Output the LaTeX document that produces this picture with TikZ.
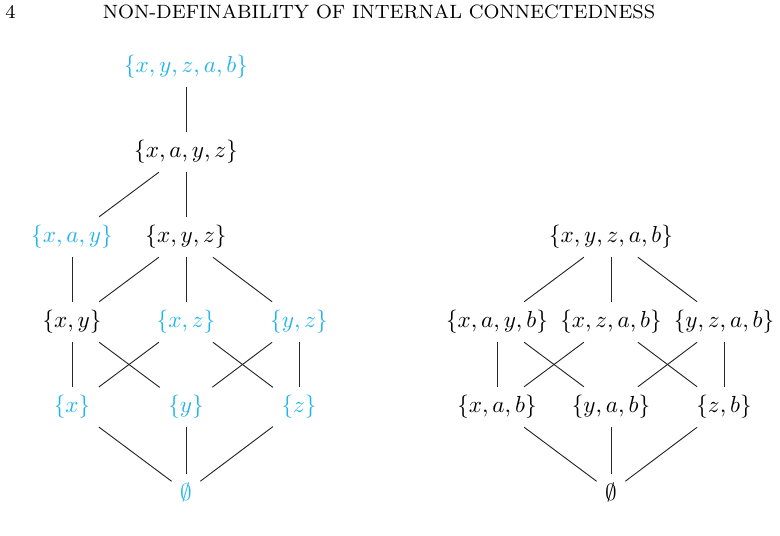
\documentclass[tikz,border=0pt]{standalone}
\usepackage{xcolor}
\definecolor{setblue}{RGB}{35,180,235}
\begin{document}
\begin{tikzpicture}[x=0.431pt,y=-0.431pt,
  el/.style={inner sep=3.5pt, text=black},
  hl/.style={inner sep=3.5pt, text=setblue},
  hdr/.style={anchor=base, font=\fontsize{8.3}{10}\selectfont},
  edge/.style={line width=0.4pt, draw=black!85}]
\useasboundingbox (0,0) rectangle (780,536);
% header
\node[hdr] (pg) at (10.5,19) {4};
\node[hdr] (hd) at (379,19) {NON-DEFINABILITY OF INTERNAL CONNECTEDNESS};
% left lattice
\node[hl] (L1) at (186,67) {$\{x,y,z,a,b\}$};
\node[el] (L2) at (186,152) {$\{x,a,y,z\}$};
\node[hl] (L3a) at (72,237) {$\{x,a,y\}$};
\node[el] (L3b) at (186,237) {$\{x,y,z\}$};
\node[el] (Lxy) at (72,322) {$\{x,y\}$};
\node[hl] (Lxz) at (186,322) {$\{x,z\}$};
\node[hl] (Lyz) at (299,322) {$\{y,z\}$};
\node[hl] (Lx) at (72,407) {$\{x\}$};
\node[hl] (Ly) at (186,407) {$\{y\}$};
\node[hl] (Lz) at (299,407) {$\{z\}$};
\node[hl] (L0) at (186,492) {$\emptyset$};
\draw[edge] (L1) -- (L2);
\draw[edge] (L2) -- (L3a);
\draw[edge] (L2) -- (L3b);
\draw[edge] (L3a) -- (Lxy);
\draw[edge] (L3b) -- (Lxy);
\draw[edge] (L3b) -- (Lxz);
\draw[edge] (L3b) -- (Lyz);
\draw[edge] (Lxy) -- (Lx);
\draw[edge] (Lxy) -- (Ly);
\draw[edge] (Lxz) -- (Lx);
\draw[edge] (Lxz) -- (Lz);
\draw[edge] (Lyz) -- (Ly);
\draw[edge] (Lyz) -- (Lz);
\draw[edge] (Lx) -- (L0);
\draw[edge] (Ly) -- (L0);
\draw[edge] (Lz) -- (L0);
% right lattice
\node[el] (R1) at (611,237) {$\{x,y,z,a,b\}$};
\node[el] (Ra) at (497,322) {$\{x,a,y,b\}$};
\node[el] (Rb) at (611,322) {$\{x,z,a,b\}$};
\node[el] (Rc) at (724,322) {$\{y,z,a,b\}$};
\node[el] (Rx) at (497,407) {$\{x,a,b\}$};
\node[el] (Ry) at (611,407) {$\{y,a,b\}$};
\node[el] (Rz) at (724,407) {$\{z,b\}$};
\node[el] (R0) at (611,492) {$\emptyset$};
\draw[edge] (R1) -- (Ra);
\draw[edge] (R1) -- (Rb);
\draw[edge] (R1) -- (Rc);
\draw[edge] (Ra) -- (Rx);
\draw[edge] (Ra) -- (Ry);
\draw[edge] (Rb) -- (Rx);
\draw[edge] (Rb) -- (Rz);
\draw[edge] (Rc) -- (Ry);
\draw[edge] (Rc) -- (Rz);
\draw[edge] (Rx) -- (R0);
\draw[edge] (Ry) -- (R0);
\draw[edge] (Rz) -- (R0);
\end{tikzpicture}
\end{document}
